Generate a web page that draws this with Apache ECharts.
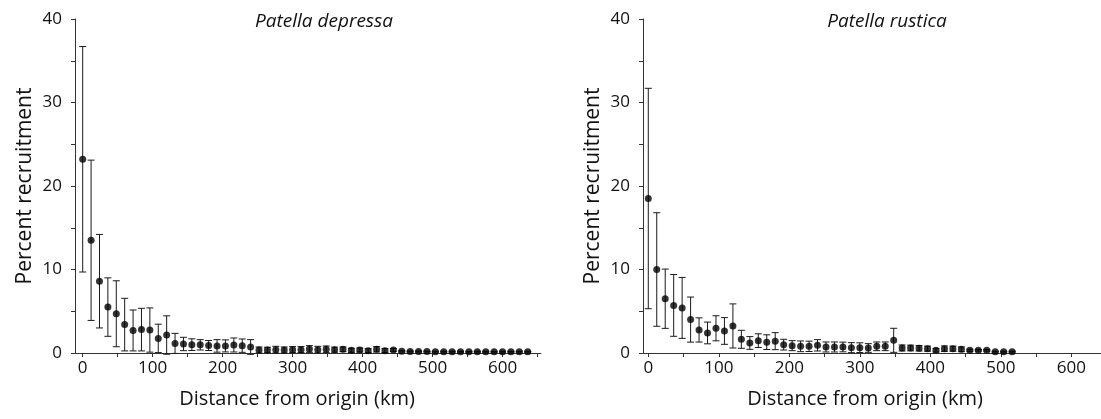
<!DOCTYPE html>
<html>
<head>
<meta charset="utf-8">
<script src="https://cdn.jsdelivr.net/npm/echarts@6/dist/echarts.min.js"></script>
<style>
  html, body { margin: 0; padding: 0; background: #fff; }
  #chart { width: 1101px; height: 419px; }
</style>
</head>
<body>
<div id="chart"></div>
<script>
// Patella depressa (left panel): distance (km), mean %, error
const distDepressa = [0, 12, 24, 36, 48, 60, 72, 84, 96, 108, 120, 132, 144, 156, 168, 180, 192, 204, 216, 228,
  240, 252, 264, 276, 288, 300, 312, 324, 336, 348, 360, 372, 384, 396, 408, 420, 432, 444, 456, 468,
  480, 492, 504, 516, 528, 540, 552, 564, 576, 588, 600, 612, 624, 636]
const meanDepressa = [23.2, 13.5, 8.6, 5.5, 4.7, 3.4, 2.7, 2.8, 2.75, 1.75, 2.15, 1.15, 1.08, 1.0, 0.98, 0.9, 0.85, 0.85, 0.96, 0.88,
  0.72, 0.36, 0.36, 0.4, 0.36, 0.4, 0.4, 0.48, 0.4, 0.44, 0.4, 0.44, 0.32, 0.36, 0.28, 0.44, 0.28, 0.36, 0.2, 0.18,
  0.18, 0.17, 0.16, 0.16, 0.16, 0.16, 0.15, 0.16, 0.16, 0.15, 0.16, 0.16, 0.16, 0.16]
const errDepressa = [13.5, 9.6, 5.6, 3.5, 3.95, 3.15, 2.45, 2.55, 2.65, 1.7, 2.3, 1.2, 0.8, 0.7, 0.62, 0.6, 0.75, 0.72, 0.84, 0.8,
  0.88, 0.36, 0.33, 0.4, 0.36, 0.36, 0.36, 0.4, 0.4, 0.4, 0.3, 0.28, 0.24, 0.24, 0.24, 0.32, 0.24, 0.16, 0.08, 0.06,
  0.06, 0.05, 0.05, 0.05, 0.05, 0.05, 0.05, 0.05, 0.05, 0.05, 0.05, 0.05, 0.05, 0.05]

// Patella rustica (right panel)
const distRustica = [0, 12, 24, 36, 48, 60, 72, 84, 96, 108, 120, 132, 144, 156, 168, 180, 192, 204, 216, 228,
  240, 252, 264, 276, 288, 300, 312, 324, 336, 348, 360, 372, 384, 396, 408, 420, 432, 444, 456, 468,
  480, 492, 504, 516]
const meanRustica = [18.5, 10.0, 6.5, 5.7, 5.4, 4.0, 2.76, 2.4, 2.96, 2.64, 3.24, 1.64, 1.2, 1.48, 1.3, 1.42, 1.0, 0.88, 0.8, 0.8,
  0.92, 0.72, 0.72, 0.72, 0.64, 0.64, 0.6, 0.8, 0.8, 1.52, 0.6, 0.6, 0.56, 0.52, 0.32, 0.52, 0.52, 0.44, 0.32, 0.32,
  0.32, 0.16, 0.16, 0.16]
const errRustica = [13.2, 6.8, 3.55, 3.7, 3.65, 2.7, 1.45, 1.3, 1.5, 1.6, 2.64, 1.08, 0.76, 0.82, 0.88, 1.02, 0.64, 0.6, 0.64, 0.62,
  0.68, 0.6, 0.6, 0.58, 0.6, 0.58, 0.52, 0.52, 0.52, 1.44, 0.36, 0.34, 0.32, 0.3, 0.2, 0.32, 0.3, 0.28, 0.12, 0.1,
  0.1, 0.05, 0.05, 0.05]

const xTickValues = [0, 50, 100, 150, 200, 250, 300, 350, 400, 450, 500, 550, 600, 650]
const xLabelValues = [0, 100, 200, 300, 400, 500, 600]
const yTickValues = [0, 5, 10, 15, 20, 25, 30, 35, 40]
const yLabelValues = [0, 10, 20, 30, 40]

const titles = ['Patella depressa', 'Patella rustica']
const xName = 'Distance from origin (km)'
const yName = 'Percent recruitment'

const FONT = '"Open Sans", "Noto Sans", sans-serif'
const INK = '#111'

const makeBars = (dist, mean, err) => dist.map((d, i) => [d, mean[i] - err[i], mean[i] + err[i]])
const makePoints = (dist, mean) => dist.map((d, i) => [d, mean[i]])

const errRenderItem = (params, api) => {
  const x = api.value(0)
  const top = api.coord([x, api.value(2)])
  const bot = api.coord([x, api.value(1)])
  const half = 3.5
  const style = { stroke: '#1a1a1a', lineWidth: 1 }
  return {
    type: 'group',
    children: [
      { type: 'line', shape: { x1: top[0], y1: top[1], x2: bot[0], y2: bot[1] }, style },
      { type: 'line', shape: { x1: top[0] - half, y1: top[1], x2: top[0] + half, y2: top[1] }, style },
      { type: 'line', shape: { x1: bot[0] - half, y1: bot[1], x2: bot[0] + half, y2: bot[1] }, style }
    ]
  }
}

const xAxisCfg = (gridIndex, min, max, shift) => ({
  type: 'value',
  gridIndex,
  min,
  max,
  name: xName,
  nameLocation: 'middle',
  nameGap: 36,
  nameTextStyle: { fontFamily: FONT, fontSize: 20, color: INK, padding: [0, shift, 0, 0] },
  axisLine: { onZero: false, lineStyle: { color: '#333', width: 1 } },
  axisTick: { show: true, length: 4, inside: false, customValues: xTickValues, lineStyle: { color: '#333' } },
  axisLabel: { customValues: xLabelValues, fontFamily: FONT, fontSize: 17, color: INK, margin: 7 },
  splitLine: { show: false }
})

const yAxisCfg = (gridIndex) => ({
  type: 'value',
  gridIndex,
  min: 0,
  max: 40,
  name: yName,
  nameLocation: 'middle',
  nameGap: 39,
  nameTextStyle: { fontFamily: FONT, fontSize: 21, color: INK },
  axisLine: { show: true, onZero: false, lineStyle: { color: '#333', width: 1 } },
  axisTick: { show: true, length: 4, customValues: yTickValues, lineStyle: { color: '#333' } },
  axisLabel: { customValues: yLabelValues, fontFamily: FONT, fontSize: 17, color: INK, margin: 13 },
  splitLine: { show: false }
})

const chart = echarts.init(document.getElementById('chart'), null, { renderer: 'canvas' })

const option = {
  backgroundColor: '#fff',
  animation: false,
  title: [
    { text: titles[0], left: 319, top: 7, textAlign: 'center',
      textStyle: { fontFamily: FONT, fontStyle: 'italic', fontWeight: 'normal', fontSize: 19, color: INK } },
    { text: titles[1], left: 882, top: 7, textAlign: 'center',
      textStyle: { fontFamily: FONT, fontStyle: 'italic', fontWeight: 'normal', fontSize: 19, color: INK } }
  ],
  grid: [
    { left: 75, top: 19, width: 466, height: 334 },
    { left: 643, top: 19, width: 458, height: 334 }
  ],
  xAxis: [xAxisCfg(0, -11, 655, 22), xAxisCfg(1, -7.5, 642, 14)],
  yAxis: [yAxisCfg(0), yAxisCfg(1)],
  series: [
    {
      type: 'custom', xAxisIndex: 0, yAxisIndex: 0,
      renderItem: errRenderItem, clip: false,
      encode: { x: 0, y: [1, 2] },
      data: makeBars(distDepressa, meanDepressa, errDepressa)
    },
    {
      type: 'scatter', xAxisIndex: 0, yAxisIndex: 0,
      symbol: 'circle', symbolSize: 7,
      itemStyle: { color: '#000' },
      data: makePoints(distDepressa, meanDepressa)
    },
    {
      type: 'custom', xAxisIndex: 1, yAxisIndex: 1,
      renderItem: errRenderItem, clip: false,
      encode: { x: 0, y: [1, 2] },
      data: makeBars(distRustica, meanRustica, errRustica)
    },
    {
      type: 'scatter', xAxisIndex: 1, yAxisIndex: 1,
      symbol: 'circle', symbolSize: 7,
      itemStyle: { color: '#000' },
      data: makePoints(distRustica, meanRustica)
    }
  ]
}

chart.setOption(option)

window.addEventListener('resize', () => {
  chart.resize()
})
</script>
</body>
</html>
